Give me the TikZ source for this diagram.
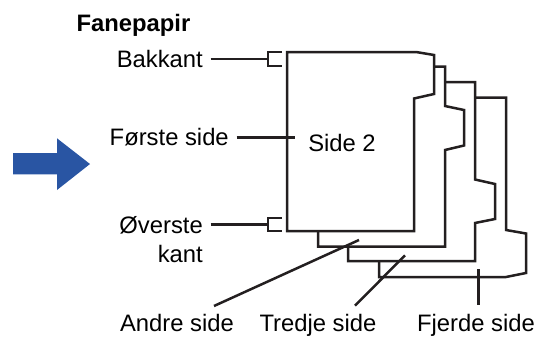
\documentclass[tikz,border=0pt]{standalone}
\usepackage{fontspec}
\setmainfont{Liberation Sans}
\usetikzlibrary{calc}
\definecolor{arrblue}{RGB}{41, 85, 163}
\definecolor{ink}{RGB}{35, 31, 32}

\begin{document}
\begin{tikzpicture}[x=0.5pt, y=-0.5pt, line width=1.25pt, line join=miter, draw=ink,
        lbl/.style={font=\fontsize{11.9}{14.25}\selectfont, inner ysep=0pt, inner xsep=0pt},
        lft/.style={lbl, inner xsep=3.25pt},
        sheet/.style={draw=ink}
      ]
        \useasboundingbox (0,0) rectangle (546,338);
        % arrow
        \fill[arrblue] (13,153) -- (57,153) -- (57,138.3) -- (90,164) -- (57,190) -- (57,174.3) -- (13,174.3) -- cycle;
        % sheets, back to front
        \draw[sheet] (475,97.5) -- (506,97.5) -- (506,230) -- (526,233.5) -- (526,273) -- (506,277) -- (379,277) -- (379,261);
        \draw[sheet] (445,82) -- (475,82) -- (475,179.5) -- (495,184) -- (495,219) -- (475,223) -- (475,261) -- (348,261) -- (348,246.5);
        \draw[sheet] (434,66.5) -- (445,66.5) -- (445,106) -- (464,110) -- (464,145.5) -- (445,150) -- (445,246.5) -- (318,246.5) -- (318,231);
        \draw[sheet] (287,52) -- (416,52) -- (434,55) -- (434,94) -- (414,98.5) -- (414,231) -- (287,231) -- cycle;
        \node[lbl, anchor=base] (s2) at (342,151) {Side 2};
        % labels
        \node[lbl, anchor=base, font=\fontsize{11.9}{14.25}\selectfont\bfseries] (fane) at (133.5,31) {Fanepapir};
        \node[lft, anchor=east] (bak) at (210.5,59) {Bakkant};
        \node[lft, anchor=east] (forst) at (236.5,137.3) {Første side};
        \node[lft, anchor=north east, align=right] (over) at (210.5,215.5) {Øverste\\kant};
        \node[lbl, anchor=base] (andre) at (177,331.5) {Andre side};
        \node[lbl, anchor=base] (tredje) at (318,331.5) {Tredje side};
        \node[lbl, anchor=base] (fjerde) at (476,331.5) {Fjerde side};
        % brackets and leaders
        \coordinate (bbr) at (268,59);
        \coordinate (obr) at (268,224.5);
        \coordinate (fpt) at (294.5,137.3);
        \coordinate (apt) at (359,240);
        \coordinate (aend) at (214,306);
        \coordinate (tpt) at (405,255.3);
        \coordinate (tend) at (355,305.7);
        \coordinate (jpt) at (478.3,269.3);
        \draw (bbr) ++(13.5,-7) -- ++(-13.5,0) -- ++(0,14) -- ++(13.5,0);
        \draw (obr) ++(13.5,-6.5) -- ++(-13.5,0) -- ++(0,13) -- ++(13.5,0);
        \draw (bak.east) -- (bbr);
        \draw (obr -| over.east) -- (obr);
        \draw (forst.east) -- (fpt);
        \draw (aend) -- (apt);
        \draw (tend) -- (tpt);
        \draw (jpt) -- ($(jpt |- fjerde.north)+(0,-8.5)$);
      \end{tikzpicture}
\end{document}
